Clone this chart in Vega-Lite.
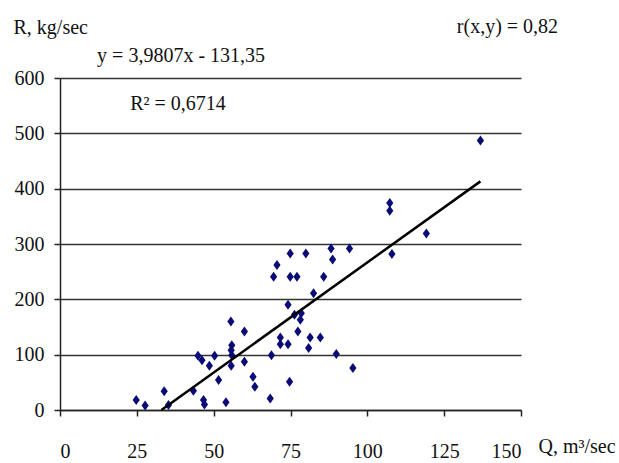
{
  "$schema": "https://vega.github.io/schema/vega-lite/v6.json",
  "width": 461,
  "height": 332,
  "autosize": "none",
  "padding": {"left": 60, "top": 78, "right": 98, "bottom": 53},
  "background": "white",
  "config": {
    "view": {"stroke": null},
    "font": "'Liberation Serif', 'Times New Roman', 'DejaVu Serif', serif",
    "axis": {"labelFont": "'Liberation Serif', 'Times New Roman', 'DejaVu Serif', serif", "titleFont": "'Liberation Serif', 'Times New Roman', 'DejaVu Serif', serif", "labelFontSize": 20, "titleFontSize": 20, "labelColor": "#111", "titleColor": "#111", "titleFontWeight": "normal", "domainColor": "#222", "tickColor": "#222", "domainWidth": 1.5, "tickWidth": 1.5, "tickSize": 6}
  },
  "datasets": {
    "pts": [
      {"Q": 24.8, "R": 18}, {"Q": 27.7, "R": 8}, {"Q": 33.9, "R": 34}, {"Q": 35.3, "R": 9},
      {"Q": 43.4, "R": 35}, {"Q": 44.9, "R": 98}, {"Q": 46.2, "R": 90}, {"Q": 46.7, "R": 18},
      {"Q": 47.0, "R": 10}, {"Q": 48.6, "R": 80}, {"Q": 50.3, "R": 98}, {"Q": 51.6, "R": 54},
      {"Q": 54.0, "R": 14}, {"Q": 55.6, "R": 160}, {"Q": 55.9, "R": 117}, {"Q": 55.7, "R": 108},
      {"Q": 55.9, "R": 99}, {"Q": 55.7, "R": 80}, {"Q": 60.0, "R": 142}, {"Q": 60.0, "R": 87},
      {"Q": 62.8, "R": 60}, {"Q": 63.4, "R": 42}, {"Q": 68.4, "R": 21}, {"Q": 68.8, "R": 99},
      {"Q": 69.5, "R": 241}, {"Q": 70.6, "R": 262}, {"Q": 71.7, "R": 131}, {"Q": 71.7, "R": 119},
      {"Q": 74.2, "R": 119}, {"Q": 74.2, "R": 190}, {"Q": 74.7, "R": 51}, {"Q": 74.9, "R": 283},
      {"Q": 74.9, "R": 241}, {"Q": 77.1, "R": 241}, {"Q": 76.3, "R": 172}, {"Q": 78.5, "R": 175},
      {"Q": 78.2, "R": 163}, {"Q": 77.4, "R": 142}, {"Q": 80.0, "R": 283}, {"Q": 80.9, "R": 112},
      {"Q": 81.4, "R": 131}, {"Q": 82.5, "R": 211}, {"Q": 84.7, "R": 131}, {"Q": 85.8, "R": 241},
      {"Q": 88.2, "R": 292}, {"Q": 88.7, "R": 272}, {"Q": 89.9, "R": 101}, {"Q": 94.2, "R": 292},
      {"Q": 95.3, "R": 76}, {"Q": 107.3, "R": 374}, {"Q": 107.3, "R": 360}, {"Q": 108.0, "R": 282},
      {"Q": 119.2, "R": 319}, {"Q": 136.8, "R": 487}
    ],
    "trend": [{"Q": 33.0, "R": 0}, {"Q": 136.8, "R": 413.2}],
    "notes": [
      {"Q": 39.4, "R": 629, "label": "y = 3,9807x - 131,35", "al": "center"},
      {"Q": 38.4, "R": 542, "label": "R² = 0,6714", "al": "center"},
      {"Q": 145.6, "R": 681, "label": "r(x,y) = 0,82", "al": "left"}
    ]
  },
  "layer": [
    {
      "data": {"name": "pts"},
      "mark": {"type": "point", "shape": "M0,-1L0.72,0L0,1L-0.72,0Z", "filled": true, "size": 100, "color": "#0b0b78", "opacity": 1},
      "encoding": {
        "x": {"field": "Q", "type": "quantitative", "scale": {"domain": [0, 150], "nice": false, "zero": false},
              "axis": {"values": [0, 25, 50, 75, 100, 125, 150], "grid": false, "labelPadding": 25, "title": "Q, m³/sec", "titleX": 478, "titleY": 42, "titleAlign": "left", "titleBaseline": "alphabetic"}},
        "y": {"field": "R", "type": "quantitative", "scale": {"domain": [0, 600], "nice": false},
              "axis": {"values": [0, 100, 200, 300, 400, 500, 600], "grid": true, "gridColor": "#333", "gridWidth": 1.5, "labelPadding": 10, "title": "R, kg/sec", "titleAngle": 0, "titleX": -47, "titleY": -45, "titleAlign": "left", "titleBaseline": "alphabetic"}}
      }
    },
    {
      "data": {"name": "trend"},
      "mark": {"type": "line", "color": "#000", "strokeWidth": 2.5},
      "encoding": {
        "x": {"field": "Q", "type": "quantitative"},
        "y": {"field": "R", "type": "quantitative"}
      }
    },
    {
      "data": {"name": "notes"},
      "mark": {"type": "text", "fontSize": 20, "font": "'Liberation Serif', 'Times New Roman', 'DejaVu Serif', serif", "baseline": "alphabetic", "color": "#111"},
      "encoding": {
        "x": {"field": "Q", "type": "quantitative"},
        "y": {"field": "R", "type": "quantitative"},
        "text": {"field": "label"},
        "align": {"field": "al"}
      }
    }
  ]
}
